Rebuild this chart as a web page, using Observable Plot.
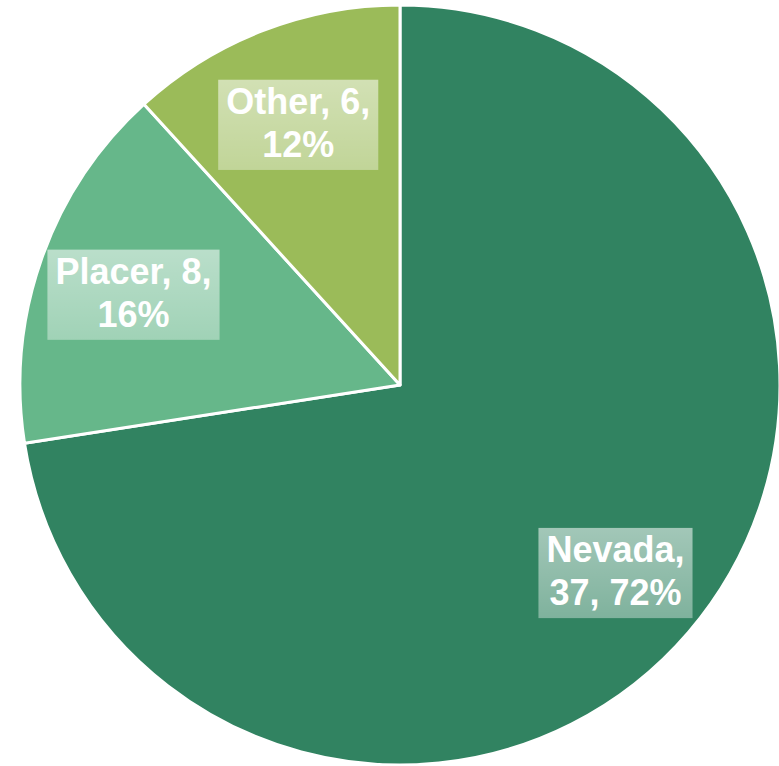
<!DOCTYPE html>
<html>
<head>
<meta charset="utf-8">
<script src="https://cdn.jsdelivr.net/npm/d3@7"></script>
<script src="https://cdn.jsdelivr.net/npm/@observablehq/plot@0.6"></script>
<style>
  html, body { margin: 0; padding: 0; background: #ffffff; }
  svg { display: block; }
</style>
</head>
<body>
<script>
const categories = ["Nevada", "Placer", "Other"];
const counts = [37, 8, 6];
const percents = ["72%", "16%", "12%"];
const colors = ["#318361", "#66b78a", "#9bbb59"];
const labelLines = [["Nevada,", "37, 72%"], ["Placer, 8,", "16%"], ["Other, 6,", "12%"]];

const data = categories.map((c, i) => ({name: c, value: counts[i], pct: percents[i], label: labelLines[i].join("\n")}));
const arcs = d3.pie().sort(null).value(d => d.value)(data);
const labelRadius = 0.745;
data.forEach((d, i) => {
  const a = (arcs[i].startAngle + arcs[i].endAngle) / 2;
  d.lx = labelRadius * Math.sin(a);
  d.ly = labelRadius * Math.cos(a);
});

const chart = Plot.plot({
  width: 779,
  height: 766,
  margin: 0,
  x: {domain: [-1, 1], range: [20, 780], axis: null},
  y: {domain: [-1, 1], range: [765, 5], axis: null},
  color: {domain: categories, range: colors},
  style: {background: "white"},
  marks: [
    Plot.dot(data, {
      x: () => 0, y: () => 0, fill: "name",
      render(index, scales, values) {
        const cx = scales.x(0), cy = scales.y(0), r = scales.x(1) - scales.x(0);
        const arc = d3.arc().innerRadius(0).outerRadius(r);
        const g = d3.create("svg:g");
        g.selectAll("path").data(index).join("path")
          .attr("transform", `translate(${cx},${cy})`)
          .attr("d", i => arc(arcs[i]))
          .attr("fill", i => values.fill[i])
          .attr("stroke", "white")
          .attr("stroke-width", 3)
          .attr("stroke-linejoin", "round");
        return g.node();
      }
    }),
    Plot.text(data, {
      x: "lx", y: "ly", text: "label",
      fill: "white", fontSize: 36, fontWeight: "bold",
      fontFamily: "'Liberation Sans', Arial, sans-serif",
      lineHeight: 1.2, lineAnchor: "middle", textAnchor: "middle"
    })
  ]
});
document.body.append(chart);

// label backgrounds
const svg = d3.select(chart);
const defs = svg.insert("defs", ":first-child");
const grad = defs.append("linearGradient").attr("id", "lblgrad").attr("x1", 0).attr("y1", 0).attr("x2", 0).attr("y2", 1);
grad.append("stop").attr("offset", "0%").attr("stop-color", "white").attr("stop-opacity", 0.55);
grad.append("stop").attr("offset", "100%").attr("stop-color", "white").attr("stop-opacity", 0.38);
svg.selectAll("g[aria-label='text'] text").each(function () {
  const b = this.getBBox();
  const t = this.getAttribute("transform");
  const rect = document.createElementNS("http://www.w3.org/2000/svg", "rect");
  rect.setAttribute("x", b.x - 8);
  rect.setAttribute("y", b.y - 1);
  rect.setAttribute("width", b.width + 16);
  rect.setAttribute("height", b.height + 6);
  rect.setAttribute("fill", "url(#lblgrad)");
  if (t) rect.setAttribute("transform", t);
  this.parentNode.insertBefore(rect, this);
});
</script>
</body>
</html>
